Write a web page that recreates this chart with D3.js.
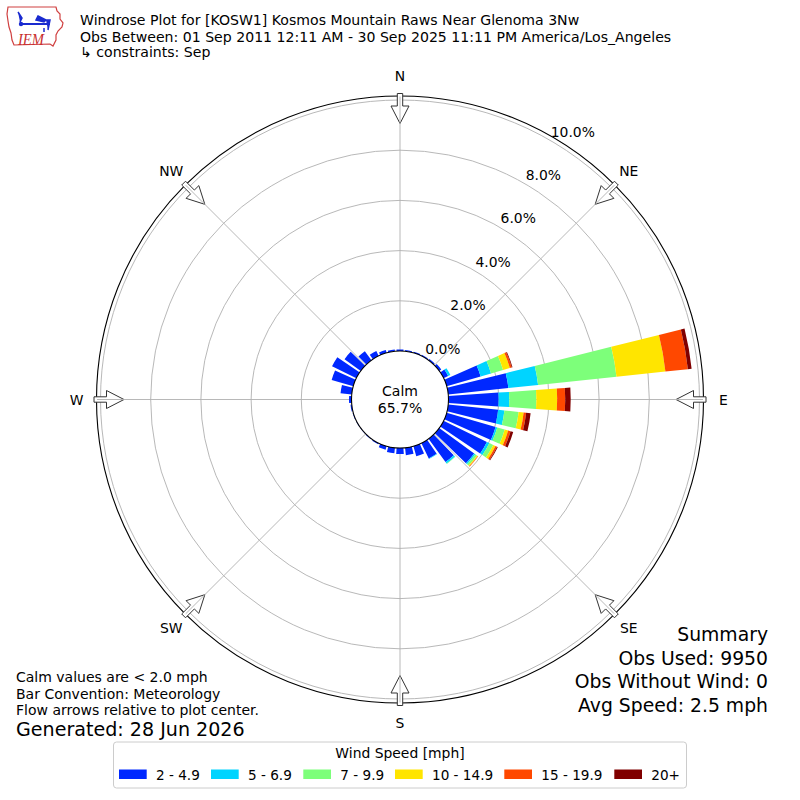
<!DOCTYPE html>
<html><head><meta charset="utf-8">
<script src="https://cdn.jsdelivr.net/npm/d3@7"></script>
<style>body{margin:0;background:#fff}svg{display:block;font-family:"DejaVu Sans",sans-serif}</style>
</head><body><svg id="c" width="800" height="800"></svg>
<script>
// ---- data ----
const directions = [0,10,20,30,40,50,60,70,80,90,100,110,120,130,140,150,160,170,180,190,200,210,220,230,240,250,260,270,280,290,300,310,320,330,340,350];
const speedBins = ["2 - 4.9","5 - 6.9","7 - 9.9","10 - 14.9","15 - 19.9","20+"];
const binColors = ["#0028ff","#00d4ff","#7dff7a","#ffe500","#ff4800","#800000"];
const spd2to4   = [0.06,0.05,0.05,0.05,0.06,0.10,0.20,1.41,2.41,2.00,2.00,2.03,1.92,1.72,1.15,0.68,0.42,0.30,0.24,0.22,0.15,0.05,0.03,0.02,0.02,0.03,0.05,0.10,0.45,0.90,1.08,0.80,0.45,0.22,0.12,0.07];
const spd5to6   = [0,0,0,0,0,0,0.10,0.43,1.19,0.42,0.25,0.07,0.11,0.06,0.07,0.02,0,0,0,0,0,0,0,0,0,0,0,0,0,0,0,0,0,0,0,0];
const spd7to9   = [0,0,0,0,0,0,0,0.50,3.14,1.08,0.57,0.31,0.17,0.08,0.02,0,0,0,0,0,0,0,0,0,0,0,0,0,0,0,0,0,0,0,0,0];
const spd10to14 = [0,0,0,0,0,0,0,0.28,1.96,0.83,0.20,0.14,0.10,0.04,0,0,0,0,0,0,0,0,0,0,0,0,0,0,0,0,0,0,0,0,0,0];
const spd15to19 = [0,0,0,0,0,0,0,0.08,0.90,0.32,0.10,0.10,0.07,0.02,0,0,0,0,0,0,0,0,0,0,0,0,0,0,0,0,0,0,0,0,0,0];
const spd20plus = [0,0,0,0,0,0,0,0.03,0.15,0.22,0.18,0.11,0.03,0,0,0,0,0,0,0,0,0,0,0,0,0,0,0,0,0,0,0,0,0,0,0];
const radialTicks = [0,2,4,6,8,10];
const compass = [["N",0],["NE",45],["E",90],["SE",135],["S",180],["SW",225],["W",270],["NW",315]];
const calmPct = "65.7%";
const titleLines = ["Windrose Plot for [KOSW1] Kosmos Mountain Raws Near Glenoma 3Nw",
  "Obs Between: 01 Sep 2011 12:11 AM - 30 Sep 2025 11:11 PM America/Los_Angeles",
  "\u21b3 constraints: Sep"];
const notes = ["Calm values are < 2.0 mph","Bar Convention: Meteorology","Flow arrows relative to plot center."];
const generated = "Generated: 28 Jun 2026";
const summary = ["Summary","Obs Used: 9950","Obs Without Wind: 0","Avg Speed: 2.5 mph"];

// ---- layout ----
const svg = d3.select("#c");
const cx = 400, cy = 399.5;
const r = d3.scaleLinear().domain([0,10]).range([48.5,299.5]);
const rad = d => d*Math.PI/180;
const g = svg.append("g").attr("transform",`translate(${cx},${cy})`);

// grid circles
g.selectAll("circle.grid").data(radialTicks.slice(1)).join("circle")
  .attr("r", d=>r(d)).attr("fill","none").attr("stroke","#b0b0b0").attr("stroke-width",0.9);

// outer frame
g.append("circle").attr("r", 303.5).attr("fill","none").attr("stroke","#000").attr("stroke-width",1.1);

// arrows
const arrowR = {tail:306, shoulder:293.5, tip:276, shaftHalf:2.7, headHalf:9};
compass.forEach(([lab,deg])=>{
  const a = rad(deg);
  const P = (rr,off)=>[rr*Math.sin(a)+off*Math.cos(a), -rr*Math.cos(a)+off*Math.sin(a)];
  const poly = [P(arrowR.tail,-arrowR.shaftHalf),P(arrowR.shoulder,-arrowR.shaftHalf),P(arrowR.shoulder,-arrowR.headHalf),
    P(arrowR.tip,0),P(arrowR.shoulder,arrowR.headHalf),P(arrowR.shoulder,arrowR.shaftHalf),P(arrowR.tail,arrowR.shaftHalf)];
  g.append("polygon").attr("points",poly.map(p=>p.join(",")).join(" "))
   .attr("fill","#fff").attr("stroke","#333").attr("stroke-width",1);
});

// spokes
g.selectAll("line.spoke").data(compass).join("line")
  .attr("x1",d=>r(0)*Math.sin(rad(d[1]))).attr("y1",d=>-r(0)*Math.cos(rad(d[1])))
  .attr("x2",d=>303*Math.sin(rad(d[1]))).attr("y2",d=>-303*Math.cos(rad(d[1])))
  .attr("stroke","#b0b0b0").attr("stroke-width",0.9);

// compass labels
g.selectAll("text.dir").data(compass).join("text")
  .attr("x",d=>323.5*Math.sin(rad(d[1]))).attr("y",d=>-323.5*Math.cos(rad(d[1])))
  .attr("text-anchor","middle").attr("dominant-baseline","central")
  .attr("font-size",13.9).attr("fill","#000").text(d=>d[0]);

// bars
const table = directions.map((d,i)=>({dir:d, b0:spd2to4[i], b1:spd5to6[i], b2:spd7to9[i], b3:spd10to14[i], b4:spd15to19[i], b5:spd20plus[i]}));
const keys = ["b0","b1","b2","b3","b4","b5"];
const stacked = d3.stack().keys(keys)(table);
const halfW = 4;
const arc = d3.arc();
stacked.forEach((layer,k)=>{
  g.append("g").selectAll("path").data(layer.filter(s=>s[1]-s[0]>0)).join("path")
    .attr("d", s=>arc({innerRadius:r(s[0]), outerRadius:r(s[1]), startAngle:rad(s.data.dir-halfW), endAngle:rad(s.data.dir+halfW)}))
    .attr("fill", binColors[k]);
});

// calm circle
g.append("circle").attr("r", r(0)).attr("fill","#fff").attr("stroke","#000").attr("stroke-width",1.1);
g.append("text").attr("x",0).attr("y",-8.5).attr("text-anchor","middle").attr("dominant-baseline","central").attr("font-size",14).text("Calm");
g.append("text").attr("x",0).attr("y",8.5).attr("text-anchor","middle").attr("dominant-baseline","central").attr("font-size",14).text(calmPct);

// radial labels (30 deg from north)
g.selectAll("text.rl").data(radialTicks).join("text")
  .attr("x",d=>r(d)*Math.sin(rad(30))+1).attr("y",d=>-r(d)*Math.cos(rad(30))-3.6)
  .attr("font-size",13.9).text(d=>d.toFixed(1)+"%");

// titles
svg.selectAll("text.title").data(titleLines).join("text")
  .attr("x",80).attr("y",(d,i)=>[25,41.5,57][i]).attr("font-size",14.1).text(d=>d);

// notes
svg.selectAll("text.note").data(notes).join("text")
  .attr("x",16).attr("y",(d,i)=>682+i*16.5).attr("font-size",14).text(d=>d);
svg.append("text").attr("x",16).attr("y",735.5).attr("font-size",19.1).text(generated);

// summary
svg.selectAll("text.sum").data(summary).join("text")
  .attr("x",768).attr("y",(d,i)=>641+i*23.7).attr("text-anchor","end").attr("font-size",18.8).text(d=>d);

// legend
const lg = svg.append("g");
lg.append("rect").attr("x",113.5).attr("y",742).attr("width",573).attr("height",46).attr("rx",3)
  .attr("fill","#fff").attr("stroke","#cccccc").attr("stroke-width",1);
lg.append("text").attr("x",400).attr("y",757.5).attr("text-anchor","middle").attr("font-size",13.9).text("Wind Speed [mph]");
const legX = [119,211,303.3,395,504.3,614.3];
speedBins.forEach((s,i)=>{
  lg.append("rect").attr("x",legX[i]).attr("y",769.5).attr("width",27.7).attr("height",9.5).attr("fill",binColors[i]);
  lg.append("text").attr("x",legX[i]+37).attr("y",779.5).attr("font-size",13.6).text(s);
});

// IEM logo
const logo = svg.append("g");
logo.append("path").attr("d","M8,7 L56,7 L57,11 L60,14 L60,19 L63,23 L62,27 L58,31 L56,35 L56,40 L53,46 L50,44 L14,45 L12,40 L11,33 L9,27 L8,21 L7,14 Z")
  .attr("fill","none").attr("stroke","#d04040").attr("stroke-width",1.2);
logo.append("line").attr("x1",22).attr("y1",24).attr("x2",50).attr("y2",24).attr("stroke","#1a2bd0").attr("stroke-width",2);
logo.append("circle").attr("cx",21).attr("cy",24).attr("r",2.2).attr("fill","#1a2bd0");
logo.append("path").attr("d","M18,12 L22,18 L20,22 M38,16 L46,20 L44,22 L36,20 Z M46,20 L50,20 L48,30 M44,28 L44,32").attr("fill","#1a2bd0").attr("stroke","#1a2bd0").attr("stroke-width",1.5);
logo.append("text").attr("x",18).attr("y",45).attr("font-family","Liberation Serif").attr("font-style","italic")
  .attr("font-size",17).attr("textLength",26).attr("lengthAdjust","spacingAndGlyphs").attr("fill","#c83030").text("IEM");
</script></body></html>
